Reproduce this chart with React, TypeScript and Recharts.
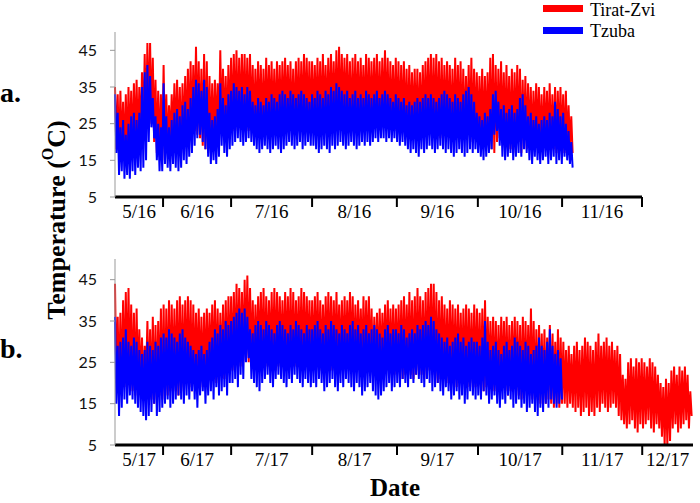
import { LineChart, Line, XAxis, YAxis } from 'recharts';

// day index from the start of each season; each day = one peak (hi) and one trough (lo)
const aRedHi = [
  35, 33, 34, 31, 33, 35, 34, 36, 37, 35,
  39, 44, 47, 47, 43, 37, 34, 33, 41, 33,
  30, 33, 36, 37, 35, 36, 38, 40, 42, 41,
  46, 42, 40, 44, 42, 38, 36, 37, 36, 45,
  40, 38, 41, 43, 44, 45, 43, 44, 44, 43,
  44, 41, 40, 42, 41, 40, 43, 41, 42, 40,
  42, 41, 42, 43, 41, 42, 40, 42, 43, 42,
  44, 43, 42, 42, 41, 43, 42, 44, 41, 43,
  44, 42, 45, 46, 44, 43, 44, 42, 43, 44,
  42, 43, 41, 44, 43, 42, 43, 44, 42, 43,
  45, 43, 42, 41, 43, 42, 41, 42, 40, 41,
  39, 40, 40, 39, 41, 42, 43, 44, 43, 44,
  42, 43, 41, 42, 41, 40, 43, 41, 42, 40,
  38, 41, 43, 40, 39, 38, 40, 38, 39, 43,
  44, 41, 40, 42, 39, 41, 38, 40, 39, 41,
  40, 37, 38, 36, 35, 34, 36, 35, 33, 35,
  34, 36, 33, 35, 34, 35, 33, 34, 30, 27,
];
const aRedLo = [
  18, 16, 17, 15, 16, 18, 17, 19, 18, 20,
  22, 24, 26, 25, 20, 17, 16, 15, 18, 17,
  20, 21, 19, 18, 17, 19, 20, 21, 22, 23,
  22, 21, 19, 18, 17, 18, 19, 21, 22, 23,
  22, 21, 22, 23, 24, 23, 24, 25, 24, 23,
  24, 22, 23, 24, 23, 22, 23, 24, 23, 22,
  24, 23, 24, 25, 24, 23, 22, 24, 23, 24,
  25, 24, 23, 24, 25, 24, 23, 25, 24, 25,
  26, 25, 24, 25, 26, 25, 24, 23, 24, 25,
  24, 25, 24, 23, 24, 25, 24, 23, 24, 25,
  24, 23, 24, 23, 23, 22, 23, 22, 21, 22,
  23, 22, 21, 22, 23, 24, 23, 22, 23, 22,
  21, 22, 23, 22, 21, 20, 22, 21, 20, 21,
  22, 21, 20, 21, 20, 21, 19, 20, 21, 18,
  17, 20, 21, 20, 19, 20, 18, 17, 19, 20,
  17, 20, 18, 19, 18, 19, 20, 18, 17, 19,
  18, 17, 18, 17, 19, 18, 17, 18, 19, 17,
];
const aBlueHi = [
  33, 28, 24, 26, 22, 25, 27, 28, 26, 28,
  35, 39, 41, 38, 32, 27, 25, 24, 36, 27,
  24, 26, 28, 29, 27, 30, 31, 29, 32, 35,
  37, 36, 34, 37, 35, 28, 26, 27, 29, 36,
  32, 30, 33, 34, 36, 35, 34, 35, 33, 35,
  34, 31, 30, 32, 31, 30, 32, 31, 33, 32,
  31, 33, 34, 33, 32, 34, 33, 32, 33, 34,
  33, 32, 31, 33, 32, 34, 33, 32, 34, 33,
  35, 34, 36, 35, 34, 33, 34, 32, 33, 34,
  32, 33, 32, 34, 33, 32, 33, 34, 32, 33,
  34, 33, 32, 31, 33, 32, 31, 32, 30, 31,
  30, 31, 32, 31, 32, 33, 32, 33, 32, 31,
  32, 33, 34, 33, 32, 31, 33, 32, 31, 33,
  34, 35, 33, 31, 28, 27, 26, 28, 27, 29,
  33, 34, 31, 29, 30, 28, 29, 30, 28, 29,
  32, 33, 30, 27, 28, 26, 27, 25, 26, 27,
  26, 28, 27, 31, 29, 27, 28, 25, 23, 20,
];
const aBlueLo = [
  17, 11, 12, 10, 11, 10, 12, 11, 13, 12,
  13, 15, 20, 24, 21, 15, 12, 12, 14, 13,
  12, 14, 13, 12, 13, 15, 14, 16, 17, 19,
  21, 22, 20, 18, 16, 14, 15, 14, 16, 19,
  17, 16, 18, 19, 20, 21, 20, 19, 20, 21,
  20, 19, 18, 17, 18, 19, 18, 17, 18, 19,
  18, 17, 18, 19, 20, 19, 18, 19, 20, 18,
  19, 20, 19, 19, 18, 17, 18, 19, 18, 17,
  19, 18, 19, 20, 19, 18, 19, 20, 19, 18,
  19, 20, 19, 20, 19, 20, 21, 20, 21, 21,
  20, 21, 20, 21, 20, 19, 20, 19, 18, 17,
  18, 17, 16, 18, 17, 18, 19, 18, 17, 18,
  19, 18, 17, 18, 17, 16, 17, 18, 17, 16,
  17, 18, 17, 18, 17, 16, 15, 16, 17, 18,
  22, 23, 19, 16, 15, 16, 17, 15, 16, 17,
  16, 18, 17, 15, 14, 16, 15, 14, 15, 16,
  14, 15, 16, 14, 15, 14, 16, 15, 14, 13,
];

const bRedHi = [
  44, 36, 37, 40, 42, 43, 39, 37, 38, 33,
  31, 29, 35, 33, 36, 34, 35, 38, 39, 38,
  40, 39, 38, 40, 41, 39, 40, 41, 40, 39,
  37, 38, 36, 37, 38, 37, 39, 40, 38, 37,
  39, 40, 41, 41, 42, 44, 43, 42, 45, 46,
  43, 40, 39, 41, 42, 43, 41, 40, 42, 43,
  42, 41, 40, 42, 41, 43, 42, 40, 41, 43,
  42, 41, 40, 40, 41, 42, 40, 39, 41, 42,
  41, 40, 42, 39, 40, 41, 40, 42, 41, 39,
  40, 38, 41, 40, 41, 38, 36, 37, 38, 37,
  39, 40, 38, 39, 38, 39, 40, 41, 39, 42,
  40, 41, 43, 41, 40, 42, 43, 44, 44, 42,
  40, 41, 39, 38, 40, 39, 38, 39, 37, 38,
  39, 38, 37, 39, 38, 37, 38, 40, 36, 35,
  36, 35, 34, 36, 35, 36, 34, 35, 36, 35,
  34, 36, 35, 34, 38, 35, 33, 34, 32, 33,
  31, 34, 32, 30, 33, 31, 30, 28, 29, 27,
  29, 30, 28, 29, 31, 30, 29, 28, 30, 32,
  29, 30, 31, 29, 30, 28, 29, 27, 22, 21,
  25, 26, 24, 26, 25, 26, 25, 24, 26, 25,
  24, 22, 20, 19, 21, 20, 23, 24, 22, 24,
  23, 24, 22, 18,
];
const bRedLo = [
  20, 18, 17, 19, 20, 21, 18, 17, 19, 20,
  18, 21, 17, 16, 15, 16, 17, 16, 16, 17,
  18, 19, 18, 17, 18, 19, 20, 19, 18, 20,
  21, 20, 19, 20, 21, 22, 21, 20, 21, 22,
  21, 22, 23, 23, 24, 25, 24, 25, 26, 25,
  24, 23, 24, 25, 24, 23, 24, 25, 24, 23,
  24, 25, 24, 25, 24, 23, 24, 25, 24, 23,
  24, 25, 24, 24, 25, 24, 23, 24, 25, 24,
  23, 24, 25, 24, 23, 24, 25, 24, 23, 24,
  25, 24, 23, 24, 23, 22, 23, 22, 23, 24,
  23, 22, 23, 22, 23, 22, 21, 22, 23, 22,
  21, 22, 23, 22, 21, 22, 23, 22, 21, 20,
  21, 22, 21, 20, 21, 20, 19, 20, 21, 20,
  19, 20, 19, 19, 20, 19, 18, 19, 20, 19,
  18, 17, 18, 19, 18, 17, 18, 19, 18, 17,
  16, 17, 18, 17, 16, 17, 16, 15, 16, 15,
  16, 15, 14, 15, 14, 15, 15, 14, 15, 14,
  13, 14, 12, 13, 14, 12, 13, 12, 14, 13,
  15, 14, 13, 14, 15, 14, 12, 11, 10, 9,
  10, 11, 9, 8, 10, 9, 10, 11, 9, 8,
  10, 9, 7, 5, 5, 6, 9, 10, 8, 9,
  10, 11, 9, 12,
];
const bBlueHi = [
  36, 29, 30, 31, 33, 30, 29, 31, 30, 28,
  27, 28, 30, 29, 28, 30, 29, 31, 32, 31,
  33, 32, 31, 30, 32, 33, 31, 30, 29, 28,
  27, 28, 29, 27, 28, 30, 31, 33, 32, 34,
  33, 35, 34, 35, 36, 37, 38, 37, 38, 36,
  33, 32, 34, 35, 34, 33, 35, 34, 33, 32,
  34, 35, 34, 33, 32, 34, 33, 35, 34, 33,
  32, 34, 33, 33, 34, 35, 33, 32, 34, 33,
  35, 34, 33, 32, 34, 33, 32, 34, 35, 33,
  34, 32, 33, 34, 32, 33, 34, 33, 32, 31,
  33, 34, 32, 33, 33, 32, 34, 33, 31, 32,
  33, 32, 34, 33, 34, 35, 34, 36, 35, 33,
  32, 31, 30, 31, 29, 30, 31, 32, 30, 31,
  29, 30, 31, 30, 30, 29, 31, 35, 30, 28,
  29, 30, 28, 27, 29, 30, 28, 29, 31, 30,
  29, 28, 30, 29, 27, 28, 29, 31, 29, 28,
  30, 33, 29, 27, 28, 26,
];
const bBlueLo = [
  15, 12, 14, 16, 15, 17, 16, 15, 14, 13,
  12, 11, 12, 13, 15, 12, 13, 14, 15, 16,
  14, 15, 16, 17, 16, 15, 17, 16, 18, 16,
  14, 17, 18, 15, 17, 18, 16, 19, 17, 18,
  19, 17, 20, 20, 21, 19, 22, 21, 25, 26,
  21, 20, 19, 18, 20, 21, 22, 20, 19, 21,
  22, 21, 20, 19, 21, 20, 22, 21, 20, 19,
  21, 20, 19, 20, 19, 21, 20, 18, 19, 20,
  21, 19, 18, 20, 19, 21, 20, 19, 18, 20,
  19, 17, 18, 19, 20, 18, 17, 16, 17, 18,
  19, 20, 18, 19, 20, 19, 21, 20, 19, 21,
  20, 22, 21, 20, 19, 21, 20, 18, 19, 20,
  18, 17, 19, 18, 16, 17, 18, 16, 17, 15,
  16, 18, 17, 16, 17, 16, 18, 17, 15, 16,
  17, 15, 14, 16, 15, 17, 16, 14, 15, 16,
  14, 15, 13, 14, 15, 13, 12, 14, 13, 15,
  14, 16, 15, 14, 15, 16,
];

// month boundaries on the day axis
const monthEdges = [17.8, 43, 73, 104.4, 134.4, 165.6, 195.2];
const labelsA = ['5/16', '6/16', '7/16', '8/16', '9/16', '10/16', '11/16'];
const labelsB = ['5/17', '6/17', '7/17', '8/17', '9/17', '10/17', '11/17', '12/17'];
const yTicks = [5, 15, 25, 35, 45];

const RED = '#FF0000';
const BLUE = '#0000FF';
const SERIF = '"Liberation Serif", "Times New Roman", serif';

function buildRows(redHi: number[], redLo: number[], blueHi: number[], blueLo: number[]) {
  const rows: any[] = [];
  for (let i = 0; i < redHi.length; i++) {
    rows.push({ x: i, red: redHi[i], blue: blueHi[i] ?? null });
    rows.push({ x: i + 0.5, red: redLo[i], blue: blueLo[i] ?? null });
  }
  return rows;
}

function midPoints(count: number, end: number) {
  const out: number[] = [];
  for (let k = 0; k < count; k++) {
    const a = k === 0 ? 0 : monthEdges[k - 1];
    const b = k < monthEdges.length ? monthEdges[k] : end;
    out.push((a + b) / 2);
  }
  return out;
}

const makeTick = (mids: number[], labels: string[]) => (props: any) => {
  const { x, y, payload } = props;
  const idx = mids.findIndex((m) => Math.abs(m - payload.value) < 1e-6);
  if (idx < 0) {
    return <line x1={x} x2={x} y1={y} y2={y + 10} stroke="#000" strokeWidth={2} />;
  }
  return (
    <text x={x} y={y + 21} textAnchor="middle" fontFamily={SERIF} fontSize={19} fill="#000">
      {labels[idx]}
    </text>
  );
};

function Panel({ rows, end, labels, width, height, margin }: any) {
  const mids = midPoints(labels.length, end);
  const ticks = [...monthEdges, ...mids].sort((p, q) => p - q);
  return (
    <LineChart width={width} height={height} data={rows} margin={margin}>
      <XAxis
        dataKey="x"
        type="number"
        domain={[0, end]}
        ticks={ticks}
        interval={0}
        height={30}
        tickSize={0}
        tickMargin={0}
        tickLine={false}
        axisLine={{ stroke: '#000', strokeWidth: 3 }}
        tick={makeTick(mids, labels)}
      />
      <YAxis
        type="number"
        domain={[5, 50]}
        ticks={yTicks}
        interval={0}
        width={40}
        tickSize={5}
        tickMargin={13}
        axisLine={{ stroke: '#999' }}
        tickLine={{ stroke: '#999' }}
        tick={{ fill: '#111', fontSize: 16, fontFamily: 'Lato, "Open Sans", sans-serif' }}
      />
      <Line dataKey="red" stroke={RED} strokeWidth={2} dot={false} isAnimationActive={false} />
      <Line dataKey="blue" stroke={BLUE} strokeWidth={2} dot={false} isAnimationActive={false} />
    </LineChart>
  );
}

export default function App() {
  const rowsA = buildRows(aRedHi, aRedLo, aBlueHi, aBlueLo);
  const rowsB = buildRows(bRedHi, bRedLo, bBlueHi, bBlueLo);
  return (
    <div style={{ position: 'absolute', left: 0, top: 0, width: 700, height: 503, background: '#fff', overflow: 'hidden' }}>
      <div style={{ position: 'absolute', left: 0, top: 0 }}>
        <Panel rows={rowsA} end={195.2} labels={labelsA} width={700} height={230}
          margin={{ top: 32, right: 58, bottom: 3, left: 75 }} />
      </div>
      <div style={{ position: 'absolute', left: 0, top: 230 }}>
        <Panel rows={rowsB} end={214} labels={labelsB} width={700} height={273}
          margin={{ top: 29, right: 7, bottom: 28, left: 75 }} />
      </div>
      <svg width={700} height={503} style={{ position: 'absolute', left: 0, top: 0, pointerEvents: 'none' }}>
        <text x={0} y={102} fontFamily={SERIF} fontWeight="bold" fontSize={28}>a.</text>
        <text x={0} y={358} fontFamily={SERIF} fontWeight="bold" fontSize={28}>b.</text>
        <text
          x={56} y={220}
          transform="rotate(-90, 56, 220)"
          textAnchor="middle"
          dominantBaseline="central"
          fontFamily={SERIF}
          fontWeight="bold"
          fontSize={26}
        >
          Temperature (<tspan dy={-9} fontSize={16}>O</tspan><tspan dy={9}>C)</tspan>
        </text>
        <text x={395} y={496} textAnchor="middle" fontFamily={SERIF} fontWeight="bold" fontSize={25}>Date</text>
        <rect x={543} y={5} width={40} height={7} fill={RED} />
        <text x={590} y={16} fontFamily={SERIF} fontSize={18}>Tirat-Zvi</text>
        <rect x={543} y={27} width={40} height={7} fill={BLUE} />
        <text x={590} y={37} fontFamily={SERIF} fontSize={18}>Tzuba</text>
      </svg>
    </div>
  );
}
